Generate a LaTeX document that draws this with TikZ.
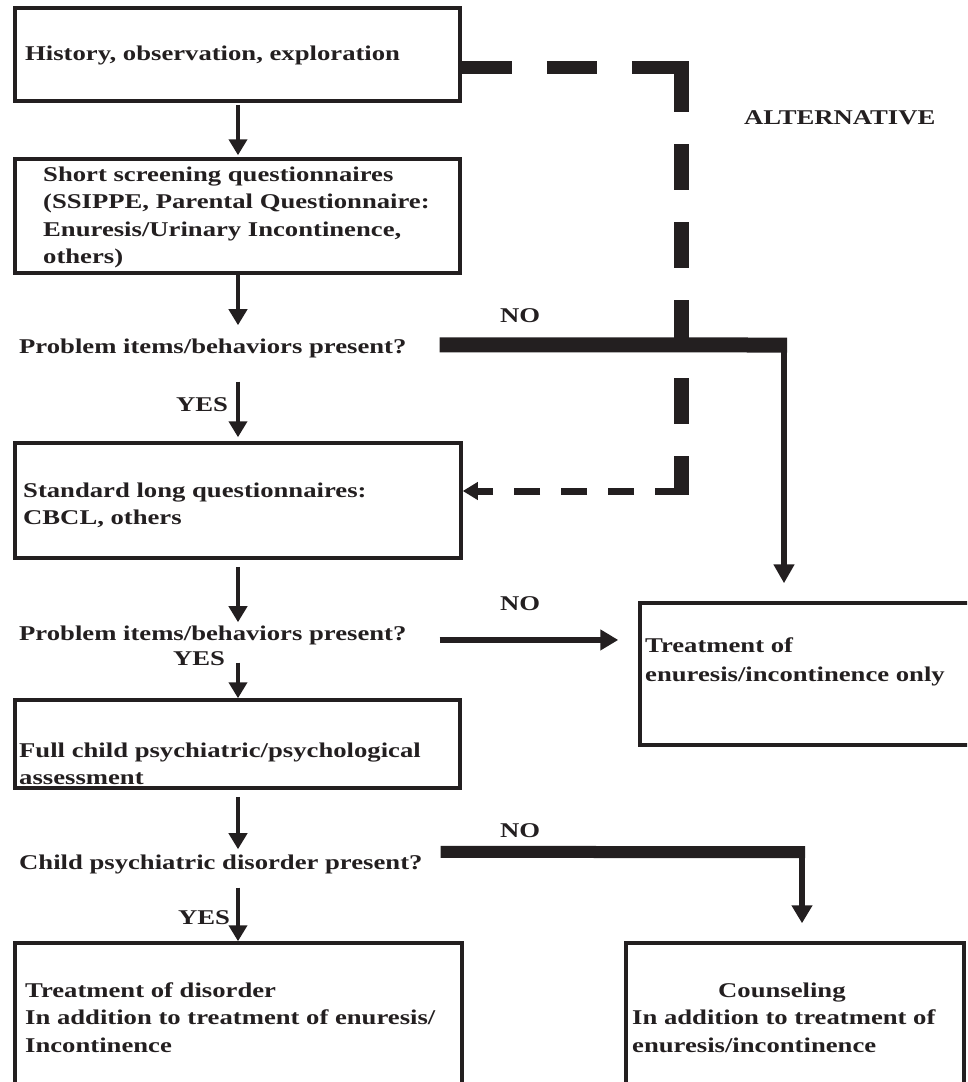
\documentclass[tikz,border=0pt]{standalone}
\usepackage{fontspec}
\setmainfont{Liberation Serif}[FakeStretch=1.27]
\usetikzlibrary{arrows.meta,fit}
\definecolor{ink}{HTML}{231F20}
\newcommand\mlines[1]{\begin{tabular}[t]{@{}l@{}}#1\end{tabular}}
\begin{document}
\begin{tikzpicture}[x=1pt,y=-1pt,
  box/.style={draw=ink, line width=3.5pt, inner sep=0pt},
  txt/.style={text=ink, font=\fontsize{21pt}{27.5pt}\selectfont\bfseries, inner sep=0pt, anchor=base west},
  flow/.style={draw=ink, line width=4.5pt, -{Triangle[width=18pt,length=16pt]}},
  thinflow/.style={draw=ink, line width=5.5pt, -{Triangle[width=20pt,length=19pt]}},
  midflow/.style={draw=ink, line width=6pt, -{Triangle[width=20pt,length=18pt]}},
  heavy/.style={draw=ink, line cap=butt},
  dashline/.style={draw=ink, line cap=butt}]
\useasboundingbox (0,0) rectangle (967,1082);
\clip (0,0) rectangle (967,1082);
\coordinate (c) at (238,0);
% boxes
\node[box, fit={(15,8)(460,101)}] (b1) {};
\node[box, fit={(15,159)(460,273)}] (b2) {};
\node[box, fit={(15,443)(461,558)}] (b3) {};
\node[box, fit={(15,700)(460,788)}] (b4) {};
\node[box, fit={(15,943)(462,1100)}] (b5) {};
\node[box, fit={(626,943)(964,1100)}] (b6) {};
\node[box, fit={(640,603)(1000,745)}] (bt) {};
% texts
\node[txt] (t1) at (25,60) {History, observation, exploration};
\node[txt] (t2) at (43,181) {\mlines{Short screening questionnaires\\(SSIPPE, Parental Questionnaire:\\Enuresis/Urinary Incontinence,\\others)}};
\node[txt] (q1) at (19,353) {Problem items/behaviors present?};
\node[txt] (no1) at (500,322) {NO};
\node[txt] (alt) at (744,124) {ALTERNATIVE};
\node[txt] (yes1) at (176,411) {YES};
\node[txt] (t3) at (23,497) {\mlines{Standard long questionnaires:\\CBCL, others}};
\node[txt] (q2) at (19,640) {Problem items/behaviors present?};
\node[txt] (yes2) at (173,665) {YES};
\node[txt] (no2) at (500,610) {NO};
\node[txt] (tt) at (645,652) {\mlines{Treatment of\\[2pt]enuresis/incontinence only}};
\node[txt] (t4) at (19,757) {\mlines{Full child psychiatric/psychological\\assessment}};
\node[txt] (q3) at (19,869) {Child psychiatric disorder present?};
\node[txt] (no3) at (500,837) {NO};
\node[txt] (yes3) at (178,924) {YES};
\node[txt] (t5) at (25,997) {\mlines{Treatment of disorder\\In addition to treatment of enuresis/\\Incontinence}};
\node[txt] (t6) at (632,997) {\mlines{\hspace*{86pt}Counseling\\In addition to treatment of\\enuresis/incontinence}};
% main vertical flow
\draw[flow, shorten <=2pt, shorten >=2pt] (b1.south -| c) -- (b2.north -| c);
\draw[flow, shorten >=13pt] (b2.south -| c) -- (q1.north -| c);
\draw[flow, shorten <=24pt, shorten >=4pt] (q1.south -| c) -- (b3.north -| c);
\draw[flow, shorten <=7pt, shorten >=3pt] (b3.south -| c) -- (q2.north -| c);
\draw[flow, shorten <=18pt] (q2.south -| c) -- (b4.north -| c);
\draw[flow, shorten <=7pt, shorten >=5pt] (b4.south -| c) -- (q3.north -| c);
\draw[flow, shorten <=14pt] (q3.south -| c) -- (b5.north -| c);
% NO 1
\coordinate (k1) at (784,345);
\draw[heavy, line width=15pt] ([xshift=33pt,yshift=3pt]q1.east) -- ([xshift=3pt]k1);
\draw[thinflow, shorten >=18pt] ([yshift=7pt]k1) -- (k1 |- bt.north);
% NO 2
\draw[midflow, shorten >=20pt] ([xshift=33pt,yshift=-5pt]q2.east) -- ([yshift=-5pt]q2.east -| bt.west);
% NO 3
\coordinate (k3) at (802,852);
\draw[heavy, line width=12pt] ([xshift=18pt,yshift=12pt]q3.east) -- ([xshift=3pt]k3);
\draw[midflow, shorten >=18pt] ([yshift=6pt]k3) -- (k3 |- b6.north);
% ALTERNATIVE dashed route
\coordinate (d1) at (681,67);
\coordinate (d2) at (681,495);
\coordinate (d3) at (681,491);
\draw[dashline, line width=13pt, dash pattern=on 50pt off 35pt on 50pt off 35pt on 59pt off 20pt] (b1.east |- d1) -- ([xshift=8pt]d1);
\draw[dashline, line width=15pt, dash pattern=on 46pt off 32pt] ([yshift=1pt]d1) -- (d2);
\draw[dashline, line width=7pt, dash pattern=on 26pt off 21pt, -{Triangle[width=17pt,length=15pt]}] (d3) -- (d3 -| b3.east);
\end{tikzpicture}
\end{document}
